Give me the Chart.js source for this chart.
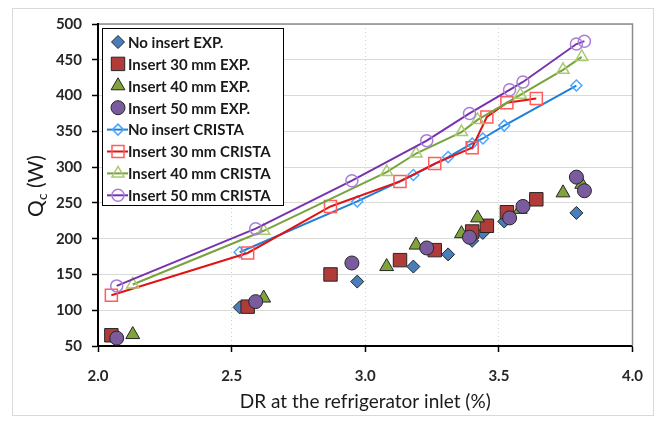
<!DOCTYPE html>
<html><head><meta charset="utf-8">
<script src="https://cdn.jsdelivr.net/npm/chart.js@4/dist/chart.umd.min.js"></script>
<style>html,body{margin:0;padding:0;background:#fff;}#wrap{width:658px;height:426px;position:relative;}</style>
</head><body><div id="wrap"><canvas id="c"></canvas></div>
<script>
// ---- data ----
const xTickValues = [2.0, 2.5, 3.0, 3.5, 4.0];
const yTickValues = [50, 100, 150, 200, 250, 300, 350, 400, 450, 500];

const noInsertX = [2.53, 2.97, 3.18, 3.31, 3.40, 3.44, 3.52, 3.79];
const noInsertExpY = [104, 140, 161, 178, 197, 208, 224, 236];
const noInsertCristaY = [181, 252, 289, 314, 333, 340, 358, 414];

const insert30X = [2.05, 2.56, 2.87, 3.13, 3.26, 3.40, 3.455, 3.53, 3.64];
const insert30ExpY = [65, 105, 150, 170, 184, 210, 218, 237, 255];
const insert30CristaY = [121, 180, 245, 280, 305, 327, 370, 390, 396];

const insert40X = [2.13, 2.62, 3.08, 3.19, 3.36, 3.42, 3.58, 3.74, 3.81];
const insert40ExpY = [66, 117, 161, 191, 207, 229, 241, 264, 276];
const insert40CristaY = [136, 211, 293, 319, 349, 366, 401, 436, 454];

const insert50X = [2.07, 2.59, 2.95, 3.23, 3.39, 3.54, 3.59, 3.79, 3.82];
const insert50ExpY = [61, 112, 166, 187, 202, 229, 245, 286, 267];
const insert50CristaY = [134, 214, 281, 337, 375, 408, 419, 472, 476];

const seriesLabels = ['No insert EXP.', 'Insert 30 mm EXP.', 'Insert 40 mm EXP.', 'Insert 50 mm EXP.',
  'No insert CRISTA', 'Insert 30 mm CRISTA', 'Insert 40 mm CRISTA', 'Insert 50 mm CRISTA'];

// ---- styles ----
const FONT = 'Lato, "Open Sans", sans-serif';
const pts = (xs, ys) => xs.map((x, i) => ({x: x, y: ys[i]}));
const expStyle = [
  {style: 'rectRot', r: 6.5, fill: '#4a7ebb'},
  {style: 'rect', r: 9.5, fill: '#b03c3a'},
  {style: 'triangle', r: 8, fill: '#80a33c'},
  {style: 'circle', r: 7, fill: '#7a5c9e'}
];
const crStyle = [
  {style: 'rectRot', r: 5.5, line: '#1f80d6', mk: '#4aa6ff'},
  {style: 'rect', r: 8.5, line: '#e01414', mk: '#ff5c5c'},
  {style: 'triangle', r: 7, line: '#79a33c', mk: '#a8ca72'},
  {style: 'circle', r: 6, line: '#7832b0', mk: '#a97fd8'}
];
const expData = [pts(noInsertX, noInsertExpY), pts(insert30X, insert30ExpY), pts(insert40X, insert40ExpY), pts(insert50X, insert50ExpY)];
const crData = [pts(noInsertX, noInsertCristaY), pts(insert30X, insert30CristaY), pts(insert40X, insert40CristaY), pts(insert50X, insert50CristaY)];

const datasets = [];
expData.forEach((d, i) => datasets.push({
  label: seriesLabels[i], data: d, showLine: false,
  pointStyle: expStyle[i].style, pointRadius: expStyle[i].r,
  backgroundColor: expStyle[i].fill, borderColor: '#262626', borderWidth: 1,
  order: 20 - i
}));
crData.forEach((d, i) => datasets.push({
  label: seriesLabels[i + 4], data: d, showLine: true, tension: 0,
  borderColor: crStyle[i].line, borderWidth: 2,
  pointStyle: crStyle[i].style, pointRadius: crStyle[i].r,
  pointBackgroundColor: 'rgba(0,0,0,0)', pointBorderColor: crStyle[i].mk, pointBorderWidth: 1.5,
  order: 10 - i
}));

const decor = {
  id: 'decor',
  beforeDraw(chart) {
    const ctx = chart.ctx;
    ctx.save();
    ctx.fillStyle = '#fff';
    ctx.fillRect(0, 0, chart.width, chart.height);
    ctx.strokeStyle = '#d9d9d9';
    ctx.lineWidth = 1;
    ctx.strokeRect(12.5, 8.5, 641, 407);
    ctx.restore();
  },
  beforeDatasetsDraw(chart) {
    const ctx = chart.ctx, a = chart.chartArea;
    ctx.save();
    ctx.strokeStyle = '#8c8c8c';
    ctx.lineWidth = 1.5;
    ctx.beginPath();
    ctx.moveTo(a.left + 1, a.top);
    ctx.lineTo(a.right, a.top);
    ctx.lineTo(a.right, a.bottom);
    ctx.stroke();
    ctx.restore();
  },
  afterDraw(chart) {
    const ctx = chart.ctx, a = chart.chartArea;
    ctx.save();
    // x title
    ctx.fillStyle = '#1a1a1a';
    ctx.font = '19px ' + FONT;
    ctx.textAlign = 'center';
    ctx.textBaseline = 'middle';
    ctx.fillText('DR at the refrigerator inlet (%)', (a.left + a.right) / 2, 402);
    // y title with subscript
    ctx.save();
    ctx.translate(43, 186);
    ctx.rotate(-Math.PI / 2);
    ctx.textAlign = 'left';
    ctx.textBaseline = 'alphabetic';
    const big = '21px ' + FONT, small = '14px ' + FONT;
    ctx.font = big; const wQ = ctx.measureText('Q').width; const wW = ctx.measureText(' (W)').width;
    ctx.font = small; const wc = ctx.measureText('c').width;
    let x0 = -(wQ + wc + wW) / 2;
    ctx.font = big; ctx.fillText('Q', x0, 0);
    ctx.font = small; ctx.fillText('c', x0 + wQ, 4);
    ctx.font = big; ctx.fillText(' (W)', x0 + wQ + wc, 0);
    ctx.restore();
    // legend
    const bx = 102.5, by = 28.5, bw = 181, bh = 177;
    ctx.fillStyle = '#fff';
    ctx.fillRect(bx, by, bw, bh);
    ctx.strokeStyle = '#000';
    ctx.lineWidth = 1;
    ctx.strokeRect(bx, by, bw, bh);
    const rowY0 = 42, rowH = 21.9, mx = 118, tx = 128;
    ctx.font = 'bold 15px ' + FONT;
    ctx.textAlign = 'left';
    ctx.textBaseline = 'middle';
    seriesLabels.forEach((lab, i) => {
      const y = rowY0 + i * rowH;
      if (i < 4) {
        const s = expStyle[i];
        ctx.fillStyle = s.fill; ctx.strokeStyle = '#262626'; ctx.lineWidth = 1;
        Chart.helpers.drawPoint(ctx, {pointStyle: s.style, radius: s.r, rotation: 0, borderWidth: 1}, mx, y);
      } else {
        const s = crStyle[i - 4];
        ctx.strokeStyle = s.line; ctx.lineWidth = 2;
        ctx.beginPath(); ctx.moveTo(107, y); ctx.lineTo(128, y); ctx.stroke();
        ctx.fillStyle = 'rgba(0,0,0,0)'; ctx.strokeStyle = s.mk; ctx.lineWidth = 1.5;
        Chart.helpers.drawPoint(ctx, {pointStyle: s.style, radius: s.r, rotation: 0, borderWidth: 1.5}, mx, y);
      }
      ctx.fillStyle = '#1a1a1a';
      ctx.fillText(lab, tx, y + 1);
    });
    ctx.restore();
  }
};

new Chart(document.getElementById('c'), {
  type: 'scatter',
  data: {datasets: datasets},
  options: {
    responsive: true, maintainAspectRatio: false, animation: false,
    layout: {padding: {top: 24, right: 25, left: 0, bottom: 0}},
    plugins: {legend: {display: false}, tooltip: {enabled: false}},
    scales: {
      x: {
        type: 'linear', min: xTickValues[0], max: xTickValues[xTickValues.length - 1],
        afterFit(s) { s.height = 80; },
        afterBuildTicks(s) { s.ticks = xTickValues.map(v => ({value: v})); },
        ticks: {callback: v => Number(v).toFixed(1), font: {family: FONT, size: 15, weight: 'bold'}, color: '#262626', padding: 15},
        grid: {color: '#d0d0d0', lineWidth: 1, tickColor: '#000', tickLength: 6, tickWidth: 1.5},
        border: {color: '#000', width: 2, dash: [1, 3]}
      },
      y: {
        type: 'linear', min: yTickValues[0], max: yTickValues[yTickValues.length - 1],
        afterFit(s) { s.width = 98; },
        afterBuildTicks(s) { s.ticks = yTickValues.map(v => ({value: v})); },
        ticks: {font: {family: FONT, size: 15, weight: 'bold'}, color: '#262626', padding: 10},
        grid: {color: '#d9d9d9', lineWidth: 1, tickColor: '#000', tickLength: 6, tickWidth: 1.5},
        border: {color: '#000', width: 2}
      }
    }
  },
  plugins: [decor]
});
</script></body></html>
